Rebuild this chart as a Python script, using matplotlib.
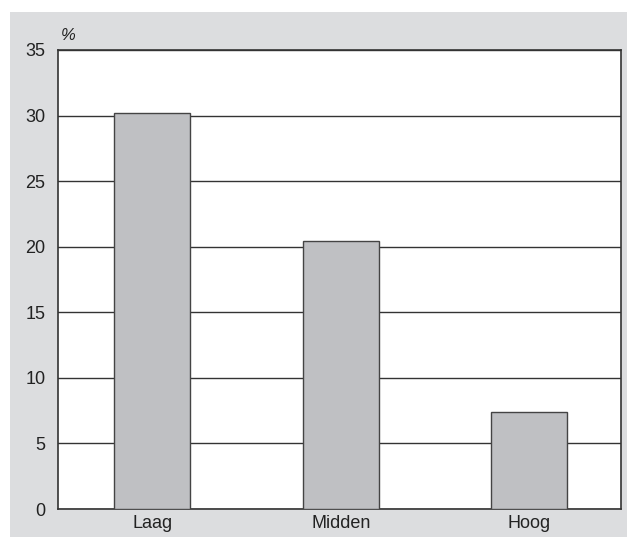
import matplotlib.pyplot as plt
from matplotlib.patches import Rectangle

# -------------------------
# Data
# -------------------------
categories = ["Laag", "Midden", "Hoog"]
values = [30.2, 20.4, 7.4]
yticks = [0, 5, 10, 15, 20, 25, 30, 35]

plt.rcParams["font.family"] = ["Liberation Sans", "DejaVu Sans"]

W, H = 627, 537
fig = plt.figure(figsize=(W / 100, H / 100), dpi=100)
fig.patch.set_facecolor("white")

# grey panel behind the chart
fig.patches.append(Rectangle((10 / W, 0), 1 - 10 / W, 1 - 12 / H,
                             transform=fig.transFigure, facecolor="#dcdddf",
                             edgecolor="none", zorder=-1))

ax = fig.add_axes([58 / W, 1 - 509 / H, (621 - 58) / W, (509 - 50) / H])
ax.set_facecolor("white")

x = range(len(categories))
ax.bar(x, values, width=0.405, color="#bfc0c3", edgecolor="#444444",
       linewidth=1.0, zorder=3)

ax.set_xlim(-0.5, 2.487)
ax.set_ylim(0, 35)
ax.set_yticks(yticks)
ax.set_xticks(list(x))
ax.set_xticklabels(categories)
ax.yaxis.grid(True, color="#333333", linewidth=1.0, zorder=1)
ax.set_axisbelow(True)
ax.tick_params(length=0, labelsize=13, colors="#222222", pad=9)
ax.tick_params(axis="x", pad=4)
for s in ax.spines.values():
    s.set_color("#333333")
    s.set_linewidth(1.2)

fig.text(61 / W, 1 - 35 / H, "%", fontsize=12, style="italic",
         color="#222222", va="center", ha="left")

plt.savefig("out.png", dpi=100)
